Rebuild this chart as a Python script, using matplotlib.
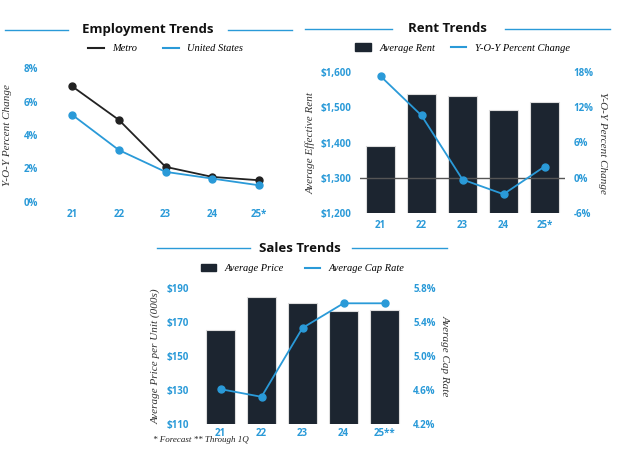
import matplotlib
matplotlib.use("Agg")
import matplotlib.pyplot as plt
from matplotlib.lines import Line2D
from matplotlib.patches import Patch

years = ["21", "22", "23", "24", "25*"]
years_sales = ["21", "22", "23", "24", "25**"]
emp_metro = [6.9, 4.9, 2.1, 1.5, 1.3]
emp_us = [5.2, 3.1, 1.8, 1.4, 1.0]
rent_avg = [1390, 1538, 1532, 1492, 1516]
rent_yoy = [17.3, 10.6, -0.3, -2.8, 1.9]
sales_price = [165.5, 184.5, 181, 176.5, 177]
cap_rate = [4.61, 4.52, 5.33, 5.62, 5.62]

BLUE = "#2a9ad8"
DARK = "#1c2530"
W, H = 623, 467
SANS = "Open Sans"
SERIF = "Liberation Serif"

fig = plt.figure(figsize=(W/100, H/100), dpi=100)

def ax_at(x0, y0, x1, y1):
    return fig.add_axes([x0/W, 1 - y1/H, (x1-x0)/W, (y1-y0)/H])

def title(cx, cy, text, l1, l2):
    fig.text(cx/W, 1-cy/H, text, ha="center", va="center", fontsize=9.5,
             fontweight="bold", family=SANS, color="#111")
    for a, b in (l1, l2):
        fig.add_artist(Line2D([a/W, b/W], [1-cy/H, 1-cy/H], color=BLUE, lw=1))

def style(ax, pad=8):
    for s in ax.spines.values():
        s.set_visible(False)
    ax.tick_params(axis="y", length=0, colors=BLUE, labelsize=7, pad=pad)
    ax.tick_params(axis="x", length=0, colors=BLUE, labelsize=7, pad=5)
    for t in ax.get_xticklabels() + ax.get_yticklabels():
        t.set_fontweight("bold"); t.set_family(SANS)

lab = dict(family=SERIF, style="italic", fontsize=8, color="#333")
leg = {"family": SERIF, "style": "italic", "size": 7.5}

# Employment
title(148, 30, "Employment Trends", (5, 68), (228, 292))
ax = ax_at(49, 68, 282, 202)
x = range(len(years))
ax.plot(x, emp_metro, color="#222", marker="o", ms=5, lw=1.3)
ax.plot(x, emp_us, color=BLUE, marker="o", ms=5, lw=1.3)
ax.set_ylim(0, 8); ax.set_xlim(-0.5, 4.5)
ax.set_yticks([0, 2, 4, 6, 8]); ax.set_yticklabels([f"{v}%" for v in [0, 2, 4, 6, 8]])
ax.set_xticks(list(x)); ax.set_xticklabels(years)
ax.set_ylabel("Y-O-Y Percent Change", labelpad=8, **lab)
style(ax)
ax.legend([Line2D([], [], color="#222"), Line2D([], [], color=BLUE)], ["Metro", "United States"],
          loc="lower center", bbox_to_anchor=(0.5, 1.04), ncol=2, frameon=False,
          prop=leg, handlelength=1.5, columnspacing=2.5)

# Rent
title(447, 29, "Rent Trends", (305, 392), (505, 610))
ax = ax_at(360, 72, 565, 213)
ax.bar(x, rent_avg, width=0.72, color=DARK, edgecolor="#ddd", lw=0.8)
ax.set_ylim(1200, 1600); ax.set_xlim(-0.5, 4.5)
ax.set_yticks([1200, 1300, 1400, 1500, 1600]); ax.set_yticklabels([f"${v:,}" for v in [1200, 1300, 1400, 1500, 1600]])
ax.set_xticks(list(x)); ax.set_xticklabels(years)
ax.axhline(1300, color="#555", lw=1)
ax.set_ylabel("Average Effective Rent", **lab)
style(ax, pad=6)
ax2 = ax.twinx()
ax2.plot(x, rent_yoy, color=BLUE, marker="o", ms=5, lw=1.3)
ax2.set_ylim(-6, 18); ax2.set_yticks([-6, 0, 6, 12, 18])
ax2.set_yticklabels([f"{v}%" for v in [-6, 0, 6, 12, 18]])
ax2.set_ylabel("Y-O-Y Percent Change", rotation=270, labelpad=10, **lab)
style(ax2, pad=6)
ax.legend([Patch(color=DARK), Line2D([], [], color=BLUE)], ["Average Rent", "Y-O-Y Percent Change"],
          loc="lower center", bbox_to_anchor=(0.5, 1.07), ncol=2, frameon=False,
          prop=leg, handlelength=1.5, columnspacing=1.5)

# Sales
title(300, 248, "Sales Trends", (157, 250), (352, 447))
ax = ax_at(200, 288, 405, 424)
ax.bar(x, sales_price, width=0.72, color=DARK, edgecolor="#ddd", lw=0.8)
ax.set_ylim(110, 190); ax.set_xlim(-0.5, 4.5)
ax.set_yticks([110, 130, 150, 170, 190]); ax.set_yticklabels([f"${v}" for v in [110, 130, 150, 170, 190]])
ax.set_xticks(list(x)); ax.set_xticklabels(years_sales)
ax.set_ylabel("Average Price per Unit (000s)", labelpad=4, **lab)
style(ax, pad=8)
ax.tick_params(axis="x", pad=3)
ax2 = ax.twinx()
ax2.plot(x, cap_rate, color=BLUE, marker="o", ms=5, lw=1.3)
ax2.set_ylim(4.2, 5.8); ax2.set_yticks([4.2, 4.6, 5.0, 5.4, 5.8])
ax2.set_yticklabels([f"{v:.1f}%" for v in [4.2, 4.6, 5.0, 5.4, 5.8]])
ax2.set_ylabel("Average Cap Rate", rotation=270, labelpad=10, **lab)
style(ax2, pad=6)
ax.legend([Patch(color=DARK), Line2D([], [], color=BLUE)], ["Average Price", "Average Cap Rate"],
          loc="lower center", bbox_to_anchor=(0.5, 1.04), ncol=2, frameon=False,
          prop=leg, handlelength=1.5, columnspacing=2)
fig.text(153/W, 1-440/H, "* Forecast ** Through 1Q", family=SERIF, style="italic", fontsize=6.5, color="#222", va="center")

fig.savefig("out.png", dpi=100, facecolor="white")
